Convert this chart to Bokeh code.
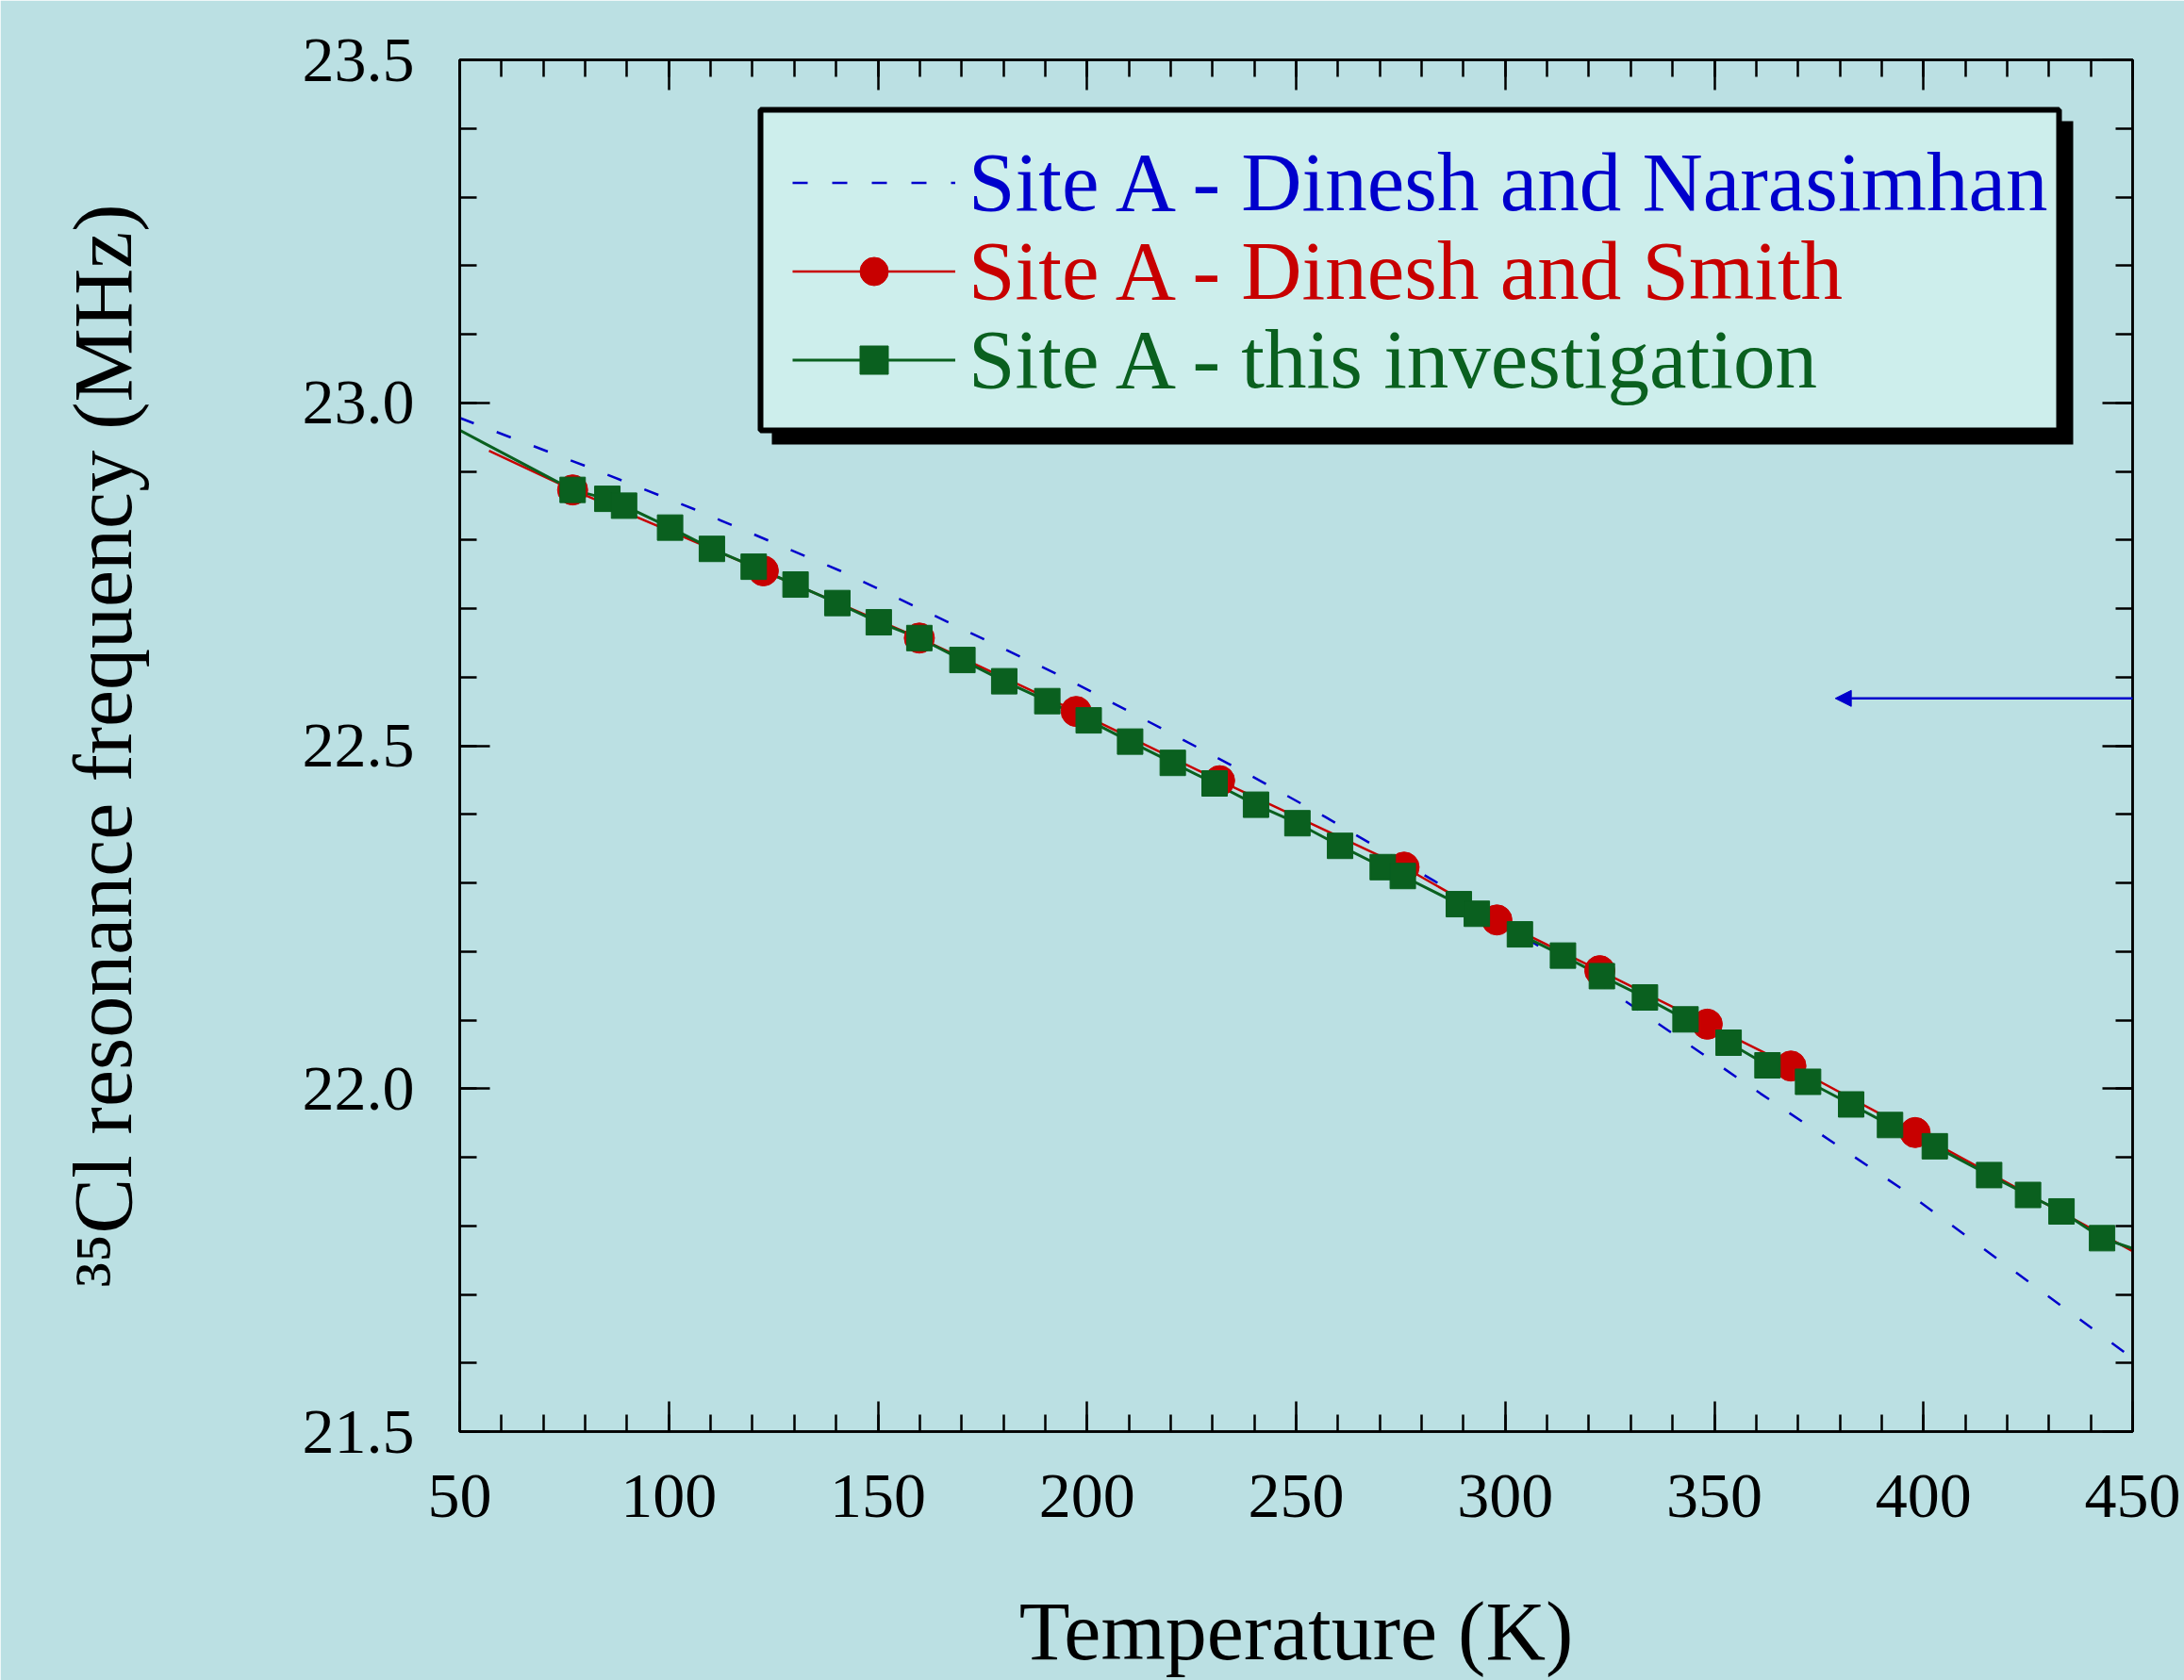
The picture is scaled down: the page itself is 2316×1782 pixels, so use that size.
from bokeh.plotting import figure
from bokeh.models import (LinearAxis, FixedTicker, Range1d, Legend, LegendItem,
                          BoxAnnotation, Arrow, NormalHead, PrintfTickFormatter)
from bokeh.embed import file_html
from bokeh.resources import INLINE

# ---------------- data ----------------
# Site A - Dinesh and Narasimhan (dashed curve)
narasimhan_T = [50, 80, 106, 141, 172, 195, 221, 239, 257, 283, 325, 361, 396, 450]
narasimhan_f = [22.978, 22.908, 22.845, 22.755, 22.665, 22.598, 22.515, 22.457,
                22.396, 22.303, 22.143, 21.993, 21.849, 21.607]

# Site A - Dinesh and Smith (circles)
smith_T = [77.0, 122.6, 159.9, 197.4, 231.7, 275.8, 298.0, 322.6, 348.3, 368.3, 398.0]
smith_f = [22.873, 22.755, 22.657, 22.550, 22.449, 22.323, 22.246, 22.172, 22.094,
           22.033, 21.936]
smith_line_T = [57] + smith_T + [450]
smith_line_f = [22.930] + smith_f + [21.763]

# Site A - this investigation (squares)
this_T = [77.0, 85.3, 89.3, 100.3, 110.3, 120.3, 130.3, 140.3, 150.2, 159.9, 170.2,
          180.2, 190.5, 200.4, 210.3, 220.5, 230.5, 240.4, 250.3, 260.5, 270.7, 275.5,
          288.9, 293.2, 303.5, 313.8, 323.1, 333.4, 343.1, 353.4, 362.7, 372.4, 382.7,
          392.0, 402.7, 415.7, 425.0, 433.0, 442.7]
this_f = [22.873, 22.860, 22.850, 22.818, 22.787, 22.761, 22.735, 22.708, 22.680,
          22.657, 22.625, 22.594, 22.565, 22.537, 22.506, 22.475, 22.445, 22.414,
          22.387, 22.354, 22.323, 22.310, 22.269, 22.255, 22.225, 22.194, 22.164,
          22.133, 22.101, 22.067, 22.034, 22.010, 21.977, 21.947, 21.916, 21.874,
          21.845, 21.821, 21.782]
this_line_T = [50] + this_T + [450]
this_line_f = [22.960] + this_f + [21.767]

# arrow (points left, at this frequency)
arrow_T = [463, 378.9]
arrow_f = 22.569

# ticks
x_major = [50, 100, 150, 200, 250, 300, 350, 400, 450]
x_minor = list(range(50, 451, 10))
y_major = [21.5, 22.0, 22.5, 23.0, 23.5]
y_minor = [round(21.5 + 0.1 * i, 1) for i in range(21)]

labels = ["Site A - Dinesh and Narasimhan", "Site A - Dinesh and Smith",
          "Site A - this investigation"]
x_title = "Temperature (K)"
y_title = "\u00b3\u2075Cl resonance frequency (MHz)"

# ---------------- style ----------------
BG = "#BBE0E3"
LEG_BG = "#CDEEEC"
BLUE = "#0000CC"
RED = "#C80000"
GREEN = "#0A601F"
FONT = "Liberation Serif"

W, H = 2316, 1782
FL, FR, FT, FB = 487, 2261, 63, 1518   # frame edges in canvas px

p = figure(width=W, height=H, x_range=Range1d(50, 450), y_range=Range1d(21.5, 23.5),
           output_backend="svg", toolbar_location=None,
           min_border_left=FL, min_border_right=W - FR, min_border_top=FT,
           min_border_bottom=H - FB,
           background_fill_color=BG, border_fill_color=BG,
           outline_line_color="black", outline_line_width=2.5)
p.xgrid.visible = False
p.ygrid.visible = False

def style_axis(ax, ticks, minor, show_labels):
    ax.ticker = FixedTicker(ticks=ticks, minor_ticks=minor)
    ax.axis_line_color = "black"
    ax.axis_line_width = 2.5
    ax.major_tick_in = 32
    ax.major_tick_out = 0
    ax.minor_tick_in = 18
    ax.minor_tick_out = 0
    ax.major_tick_line_width = 2.5
    ax.minor_tick_line_width = 2.5
    ax.major_tick_line_color = "black"
    ax.minor_tick_line_color = "black"
    ax.major_label_text_font = FONT
    ax.major_label_text_color = "black"
    ax.axis_label_text_font = FONT
    ax.axis_label_text_font_style = "normal"
    ax.axis_label_text_font_size = "88px"
    ax.axis_label_text_color = "black"
    if show_labels:
        ax.major_label_text_font_size = "68px"
    else:
        ax.major_label_overrides = {t: "" for t in ticks}
        ax.major_label_standoff = 0

xb = p.xaxis[0]
yl = p.yaxis[0]
style_axis(xb, x_major, x_minor, True)
style_axis(yl, y_major, y_minor, True)
xb.major_label_standoff = 46
yl.major_label_standoff = 48
yl.formatter = PrintfTickFormatter(format="%.1f")
xb.axis_label = x_title
xb.axis_label_standoff = 70
yl.axis_label = y_title
yl.axis_label_standoff = 160

xt = LinearAxis()
style_axis(xt, x_major, x_minor, False)
p.add_layout(xt, "above")
yr = LinearAxis()
style_axis(yr, y_major, y_minor, False)
p.add_layout(yr, "right")

# ---------------- data renderers ----------------
r_blue = p.line(narasimhan_T, narasimhan_f, line_color=BLUE, line_width=2.5,
                line_dash="16 26")
r_red_line = p.line(smith_line_T, smith_line_f, line_color=RED, line_width=2.5)
r_green_line = p.line(this_line_T, this_line_f, line_color=GREEN, line_width=3)
r_red = p.scatter(smith_T, smith_f, marker="circle", size=32, fill_color=RED,
                  line_color=RED)
r_green = p.scatter(this_T, this_f, marker="square", size=27, fill_color=GREEN,
                    line_color=GREEN)

# arrow
p.add_layout(Arrow(end=NormalHead(size=17, fill_color=BLUE, line_color=BLUE),
                   x_start=arrow_T[0], y_start=arrow_f, x_end=arrow_T[1], y_end=arrow_f,
                   line_color=BLUE, line_width=2.5))

# ---------------- legend box with shadow ----------------
def sx(cx):  # canvas x -> screen units relative to frame
    return cx - FL

def sy(cy):  # canvas y -> screen units relative to frame bottom
    return FB - cy

p.add_layout(BoxAnnotation(left=sx(818), right=sx(2198), top=sy(128), bottom=sy(471),
                           left_units="screen", right_units="screen",
                           top_units="screen", bottom_units="screen",
                           fill_color="black", fill_alpha=1, line_color=None,
                           level="annotation"))
p.add_layout(BoxAnnotation(left=sx(806), right=sx(2183), top=sy(116), bottom=sy(456),
                           left_units="screen", right_units="screen",
                           top_units="screen", bottom_units="screen",
                           fill_color=LEG_BG, fill_alpha=1, line_color="black",
                           line_alpha=1, line_width=6, level="annotation"))

row_tops = [147, 241, 335]
for lab, rends, col, top in zip(labels,
                                [[r_blue], [r_red_line, r_red], [r_green_line, r_green]],
                                [BLUE, RED, GREEN], row_tops):
    lg = Legend(items=[LegendItem(label=lab, renderers=rends)],
                location=(sx(840), sy(top + 97)),
                padding=0, margin=0, spacing=0,
                glyph_width=173, glyph_height=75, label_height=75,
                label_standoff=14,
                label_text_font=FONT, label_text_font_size="89px",
                label_text_color=col,
                border_line_color=None, background_fill_alpha=0)
    p.add_layout(lg, "center")

open("out.html", "w").write(file_html(p, INLINE))
